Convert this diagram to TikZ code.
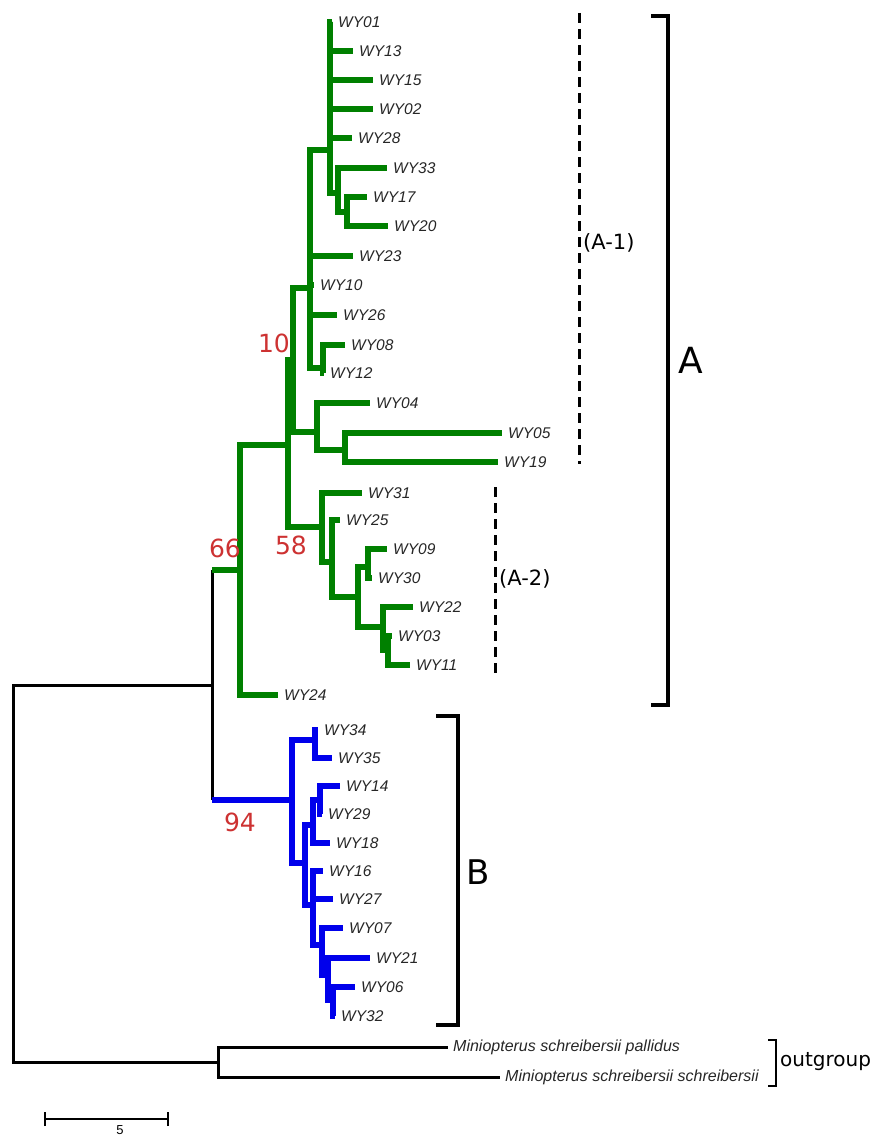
\documentclass[tikz,border=0pt]{standalone}
\usepackage{fontspec}
\setmainfont{Liberation Sans}
\newfontfamily\vfont{DejaVu Sans}
\definecolor{tg}{RGB}{0,128,0}
\definecolor{tb}{RGB}{0,0,235}
\definecolor{tr}{RGB}{205,50,50}
\begin{document}
\begin{tikzpicture}[x=1pt,y=-1pt,
  gbr/.style={draw=tg,line width=5.6pt,line join=miter,line cap=butt},
  bbr/.style={draw=tb,line width=5.6pt,line join=miter,line cap=butt},
  kbr/.style={draw=black,line width=3pt,line join=miter,line cap=butt},
  tiplab/.style={anchor=west,inner sep=0pt,xshift=6pt,font=\fontsize{15.5}{17}\selectfont\itshape,text=black!85},
  oglab/.style={anchor=west,inner sep=0pt,xshift=5pt,font=\fontsize{16}{18}\selectfont\itshape,text=black!85},
  boot/.style={inner sep=0pt,text=tr,font=\vfont\fontsize{25}{28}\selectfont},
  grp/.style={inner sep=0pt,font=\vfont\fontsize{21}{24}\selectfont},
  brk/.style={draw=black,line width=4.5pt,line join=miter},
  dsh/.style={draw=black,line width=3pt,dash pattern=on 10pt off 6pt}]
\useasboundingbox (0,0) rectangle (871,1137);
% ---------- coordinates: root and green clade
\coordinate (R) at (13,873);
\coordinate (AB) at (212,685);
\coordinate (N66) at (240,570);
\coordinate (N58) at (288,445);
\coordinate (N10) at (293,360);
\coordinate (A1) at (310,288);
\coordinate (U) at (330,150);
\coordinate (N33) at (338,193);
\coordinate (N1720) at (347,212);
\coordinate (N0812) at (323,368);
\coordinate (N04) at (317,432);
\coordinate (N0519) at (345,450);
\coordinate (N31) at (322,527);
\coordinate (N25) at (332,562);
\coordinate (N09) at (358,597);
\coordinate (N0930) at (368,567);
\coordinate (N22) at (383,627);
\coordinate (N0311) at (388,650);
\coordinate (t01) at (332,22);
\coordinate (t13) at (353,51);
\coordinate (t15) at (373,80);
\coordinate (t02) at (373,109);
\coordinate (t28) at (352,138);
\coordinate (t33) at (387,168);
\coordinate (t17) at (367,197);
\coordinate (t20) at (388,226);
\coordinate (t23) at (353,256);
\coordinate (t10) at (314,285);
\coordinate (t26) at (337,315);
\coordinate (t08) at (345,345);
\coordinate (t12) at (324,373);
\coordinate (t04) at (370,403);
\coordinate (t05) at (502,433);
\coordinate (t19) at (498,462);
\coordinate (t31) at (362,493);
\coordinate (t25) at (340,520);
\coordinate (t09) at (387,549);
\coordinate (t30) at (372,578);
\coordinate (t22) at (413,607);
\coordinate (t03) at (392,636);
\coordinate (t11) at (410,665);
\coordinate (t24) at (278,695);
% ---------- blue clade
\coordinate (NB) at (292,800);
\coordinate (N3435) at (315,740);
\coordinate (NB2) at (305,863);
\coordinate (N14) at (313,825);
\coordinate (N1429) at (320,800);
\coordinate (N16) at (313,905);
\coordinate (N07) at (322,945);
\coordinate (N21) at (328,975);
\coordinate (N06) at (333,1000);
\coordinate (t34) at (318,730);
\coordinate (t35) at (332,758);
\coordinate (t14) at (340,786);
\coordinate (t29) at (322,814);
\coordinate (t18) at (330,843);
\coordinate (t16) at (323,871);
\coordinate (t27) at (333,899);
\coordinate (t07) at (343,928);
\coordinate (t21) at (370,958);
\coordinate (t06) at (355,987);
\coordinate (t32) at (335,1016);
% ---------- outgroup
\coordinate (OG) at (218,1062);
\coordinate (tp) at (448,1047);
\coordinate (ts) at (500,1077);
% ---------- branches
\draw[kbr] (R) |- (AB);
\draw[kbr] (R) |- (OG);
\draw[kbr] (OG) |- (tp);
\draw[kbr] (OG) |- (ts);
\draw[kbr] (AB |- N66) -- (AB |- NB);
\draw[gbr] (AB |- N66) -- (N66);
\draw[bbr] (AB |- NB) -- (NB);
\foreach \p/\c in {N66/N58,N66/t24,N58/N10,N58/N31,N10/A1,N10/N04,
  A1/U,A1/t23,A1/t10,A1/t26,A1/N0812,U/t01,U/t13,U/t15,U/t02,U/t28,U/N33,
  N33/t33,N33/N1720,N1720/t17,N1720/t20,N0812/t08,N0812/t12,
  N04/t04,N04/N0519,N0519/t05,N0519/t19,N31/t31,N31/N25,N25/t25,N25/N09,
  N09/N0930,N09/N22,N0930/t09,N0930/t30,N22/t22,N22/N0311,N0311/t03,N0311/t11}
  \draw[gbr] (\p) |- (\c);
\foreach \p/\c in {NB/N3435,NB/NB2,N3435/t34,N3435/t35,NB2/N14,NB2/N16,
  N14/N1429,N14/t18,N1429/t14,N1429/t29,N16/t16,N16/t27,N16/N07,
  N07/t07,N07/N21,N21/t21,N21/N06,N06/t06,N06/t32}
  \draw[bbr] (\p) |- (\c);
% ---------- tip labels
\foreach \t/\s in {t01/WY01,t13/WY13,t15/WY15,t02/WY02,t28/WY28,t33/WY33,
  t17/WY17,t20/WY20,t23/WY23,t10/WY10,t26/WY26,t08/WY08,t12/WY12,t04/WY04,
  t05/WY05,t19/WY19,t31/WY31,t25/WY25,t09/WY09,t30/WY30,t22/WY22,t03/WY03,
  t11/WY11,t24/WY24,t34/WY34,t35/WY35,t14/WY14,t29/WY29,t18/WY18,t16/WY16,
  t27/WY27,t07/WY07,t21/WY21,t06/WY06,t32/WY32}
  \node[tiplab] (l\t) at (\t) {\s};
\node[oglab] (ltp) at (tp) {Miniopterus schreibersii pallidus};
\node[oglab] (lts) at (ts) {Miniopterus schreibersii schreibersii};
% ---------- bootstrap values
\node[boot] (b10) at (274,343) {10};
\node[boot] (b66) at (225,548) {66};
\node[boot] (b58) at (291,545) {58};
\node[boot] (b94) at (240,822) {94};
% ---------- group marks
\coordinate (d1a) at (579,13);
\coordinate (d1b) at (579,464);
\draw[dsh] (d1a) -- (d1b);
\node[grp,anchor=west] (gA1) at (583,243) {(A-1)};
\coordinate (d2a) at (495,487);
\coordinate (d2b) at (495,673);
\draw[dsh] (d2a) -- (d2b);
\node[grp,anchor=west] (gA2) at (499,579) {(A-2)};
\coordinate (bAa) at (651,16);
\coordinate (bAb) at (651,705);
\draw[brk] (bAa) -| (668,360) |- (bAb);
\node[inner sep=0pt,font=\vfont\fontsize{36}{40}\selectfont] (gA) at (691,360) {A};
\coordinate (bBa) at (436,716);
\coordinate (bBb) at (436,1025);
\draw[brk] (bBa) -| (458,870) |- (bBb);
\node[inner sep=0pt,font=\vfont\fontsize{34}{38}\selectfont] (gB) at (478,872) {B};
\coordinate (bOa) at (768,1040);
\coordinate (bOb) at (768,1086);
\draw[black,line width=1.5pt] (bOa) -| (776,1063) |- (bOb);
\node[grp,anchor=west,font=\vfont\fontsize{20}{22}\selectfont] (gO) at (780,1062) {outgroup};
% ---------- scale bar
\coordinate (sbL) at (45,1119);
\coordinate (sbR) at (168,1119);
\draw[black,line width=1.4pt] (sbL) -- (sbR);
\draw[black,line width=1.4pt] ([yshift=-7pt]sbL) -- ([yshift=7pt]sbL);
\draw[black,line width=1.4pt] ([yshift=-7pt]sbR) -- ([yshift=7pt]sbR);
\node[inner sep=0pt,font=\fontsize{13}{14}\selectfont] (sb5) at (120,1130) {5};
\end{tikzpicture}
\end{document}
